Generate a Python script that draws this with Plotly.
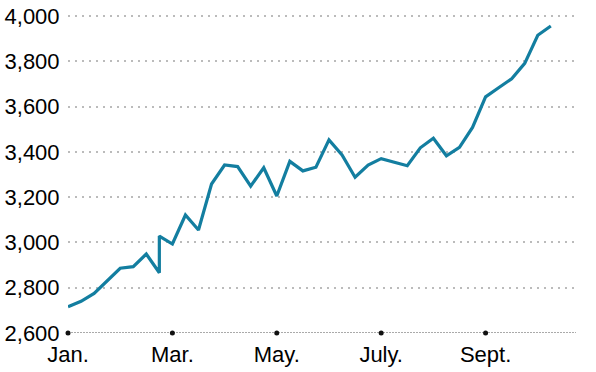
import plotly.graph_objects as go

# Weekly index (0 = early Jan.), duplicate index 7 = revision jump
weeks = [0, 1, 2, 3, 4, 5, 6, 7, 7, 8, 9, 10, 11, 12, 13, 14, 15, 16, 17, 18, 19,
         20, 21, 22, 23, 24, 25, 26, 27, 28, 29, 30, 31, 32, 33, 34, 35, 36, 37]
values = [2716, 2740, 2775, 2830, 2886, 2893, 2949, 2866, 3028, 2993, 3121, 3055,
          3258, 3342, 3335, 3249, 3330, 3205, 3358, 3316, 3332, 3453, 3386, 3288,
          3342, 3370, 3355, 3339, 3418, 3460, 3383, 3420, 3508, 3643, 3683, 3723,
          3791, 3915, 3956]
tick_weeks = [0, 8, 16, 24, 32]
tick_labels = ["Jan.", "Mar.", "May.", "July.", "Sept."]
y_ticks = [2600, 2800, 3000, 3200, 3400, 3600, 3800, 4000]
y_labels = ["2,600", "2,800", "3,000", "3,200", "3,400", "3,600", "3,800", "4,000"]

LINE = "#137ea0"
FONT = "Liberation Sans, Arial, sans-serif"

fig = go.Figure()
fig.add_trace(go.Scatter(x=weeks, y=values, mode="lines",
                         line=dict(color=LINE, width=3.2), hoverinfo="skip"))
fig.add_trace(go.Scatter(x=tick_weeks, y=[y_ticks[0]] * len(tick_weeks), mode="markers",
                         marker=dict(color="#111", size=5), cliponaxis=False,
                         hoverinfo="skip"))

fig.add_shape(type="line", xref="paper", yref="y", x0=0, x1=1,
              y0=y_ticks[0], y1=y_ticks[0],
              line=dict(color="#555", width=1, dash="2px,1px"), layer="below")

fig.update_layout(
    width=596, height=372,
    margin=dict(l=68, r=20, t=14, b=39),
    paper_bgcolor="white", plot_bgcolor="white",
    showlegend=False,
    font=dict(family=FONT, size=22, color="#000"),
    xaxis=dict(range=[0, 38.93], tickvals=tick_weeks, ticktext=tick_labels,
               showgrid=False, zeroline=False, showline=False, automargin=False,
               ticks="outside", ticklen=2, tickcolor="rgba(0,0,0,0)",
               tickfont=dict(size=22, family=FONT)),
    yaxis=dict(range=[2600, 4009], tickvals=y_ticks, ticktext=y_labels,
               showgrid=True, gridcolor="#bbbbbb", gridwidth=1.5, griddash="2px,5px",
               zeroline=False, showline=False, automargin=False, ticks="outside",
               ticklen=3, tickcolor="rgba(0,0,0,0)", tickfont=dict(size=22, family=FONT)),
)

fig.write_html("out.html")
